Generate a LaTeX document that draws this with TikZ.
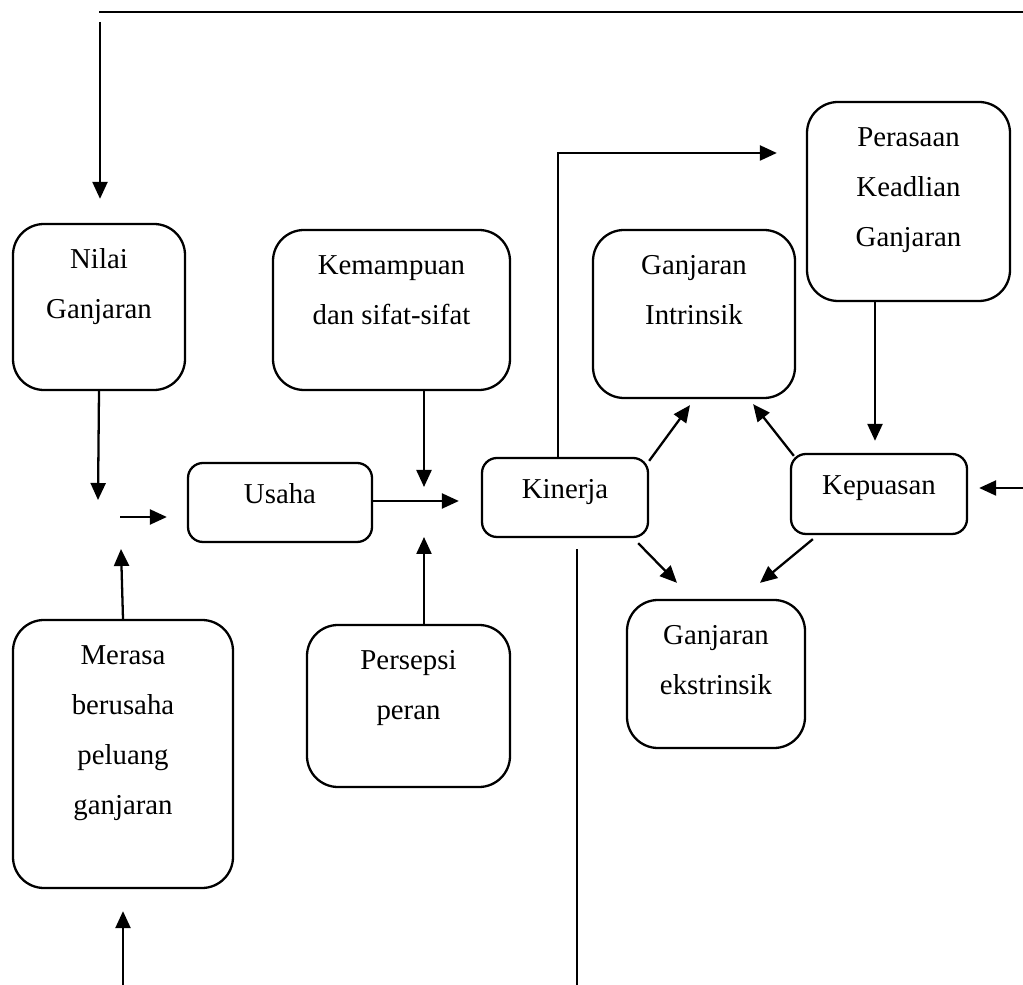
\documentclass[tikz,border=0pt]{standalone}
\usepackage{fontspec}
\setmainfont{Liberation Serif}
\usetikzlibrary{arrows.meta}

% text set at the top of a rounded box: width, height, first baseline, lines
\newcommand{\boxtxt}[4]{\parbox[c][#2][t]{#1}{\centering\rule{0pt}{#3}#4}}

\begin{document}
\begin{tikzpicture}[
        every node/.style={font=\fontsize{16.4pt}{28.45pt}\selectfont},
        arrow/.style={-{Triangle[length=0.34cm, width=0.3cm]}, line width=1.3pt},
        line/.style={line width=1.3pt},
        box/.style={rectangle, draw=black, line width=1.3pt, inner sep=0pt, rounded corners=0.62cm},
        smallbox/.style={box, rounded corners=0.3cm}
    ]
        \useasboundingbox (0,0) rectangle (20.46,-19.7);

        % Top row
        \node[box] (nilai) at (1.98,-6.14) {\boxtxt{3.44cm}{3.32cm}{0.9cm}{Nilai\\Ganjaran}};
        \node[box] (kemampuan) at (7.83,-6.2) {\boxtxt{4.74cm}{3.2cm}{0.9cm}{Kemampuan\\dan sifat-sifat}};
        \node[box] (intrinsik) at (13.88,-6.28) {\boxtxt{4.04cm}{3.36cm}{0.9cm}{Ganjaran\\Intrinsik}};
        \node[box] (perasaan) at (18.17,-4.03) {\boxtxt{4.06cm}{3.98cm}{0.9cm}{Perasaan\\Keadlian\\Ganjaran}};

        % Middle row
        \node[smallbox] (usaha) at (5.6,-10.05) {\boxtxt{3.68cm}{1.58cm}{0.82cm}{Usaha}};
        \node[smallbox] (kinerja) at (11.3,-9.95) {\boxtxt{3.32cm}{1.58cm}{0.82cm}{Kinerja}};
        \node[smallbox] (kepuasan) at (17.58,-9.88) {\boxtxt{3.52cm}{1.6cm}{0.82cm}{Kepuasan}};

        % Bottom row
        \node[box] (merasa) at (2.46,-15.08) {\boxtxt{4.4cm}{5.36cm}{0.9cm}{Merasa\\berusaha\\peluang\\ganjaran}};
        \node[box] (persepsi) at (8.17,-14.12) {\boxtxt{4.06cm}{3.24cm}{0.9cm}{Persepsi\\peran}};
        \node[box] (ekstrinsik) at (14.32,-13.48) {\boxtxt{3.56cm}{2.96cm}{0.9cm}{Ganjaran\\ekstrinsik}};

        % Free ends
        \coordinate (topL) at (1.98,-0.24);
        \coordinate (topR) at (20.46,-0.24);
        \coordinate (fbtop) at (2.0,-0.44);
        \coordinate (nilaiend) at (1.96,-10.0);
        \coordinate (joinL) at (2.4,-10.34);
        \coordinate (merasaend) at (2.42,-10.98);
        \coordinate (botL) at (2.46,-19.7);
        \coordinate (kemend) at (8.48,-9.74);
        \coordinate (perend) at (8.48,-10.74);
        \coordinate (kinup) at (11.16,-3.06);
        \coordinate (kinbot) at (11.54,-19.7);
        \coordinate (rightin) at (20.46,-9.76);

        % Feedback from the top
        \draw[line] (topL) -- (topR);
        \draw[arrow, shorten >=0.48cm] (fbtop) -- (fbtop |- nilai.north);

        % Into effort
        \draw[arrow] (nilai.south) -- (nilaiend);
        \draw[arrow, shorten >=0.4cm] (joinL) -- (joinL -| usaha.west);
        \draw[arrow] (merasa.north) -- (merasaend);
        \draw[arrow, shorten >=0.44cm] (botL) -- (merasa.south);

        % Effort to performance
        \draw[arrow, shorten >=0.44cm] (usaha.east |- 0,-10.02) -- (kinerja.west |- 0,-10.02);
        \draw[arrow] (kemampuan.south -| kemend) -- (kemend);
        \draw[arrow] (persepsi.north -| perend) -- (perend);

        % Performance to rewards
        \draw[arrow, shorten >=0.58cm] (kinerja.north -| kinup) -- (kinup) -- (kinup -| perasaan.west);
        \draw[line] ([yshift=-0.22cm]kinerja.south -| kinbot) -- (kinbot);
        \draw[arrow] ([yshift=-0.08cm]kinerja.north east) -- ([shift={(-0.08,-0.12)}]intrinsik.south);
        \draw[arrow] ([shift={(-0.22,-0.1)}]kinerja.south east) -- ([shift={(-0.78,0.32)}]ekstrinsik.north);

        % Satisfaction
        \draw[arrow] ([shift={(0.08,-0.06)}]kepuasan.north west) -- ([shift={(-0.86,-0.1)}]intrinsik.south east);
        \draw[arrow] ([shift={(0.46,-0.08)}]kepuasan.south west) -- ([shift={(0.88,0.32)}]ekstrinsik.north);
        \draw[arrow, shorten >=0.24cm] ([xshift=-0.67cm]perasaan.south) -- ([xshift=-0.67cm]perasaan.south |- kepuasan.north);
        \draw[arrow, shorten >=0.22cm] (rightin) -- (rightin -| kepuasan.east);
    \end{tikzpicture}
\end{document}
